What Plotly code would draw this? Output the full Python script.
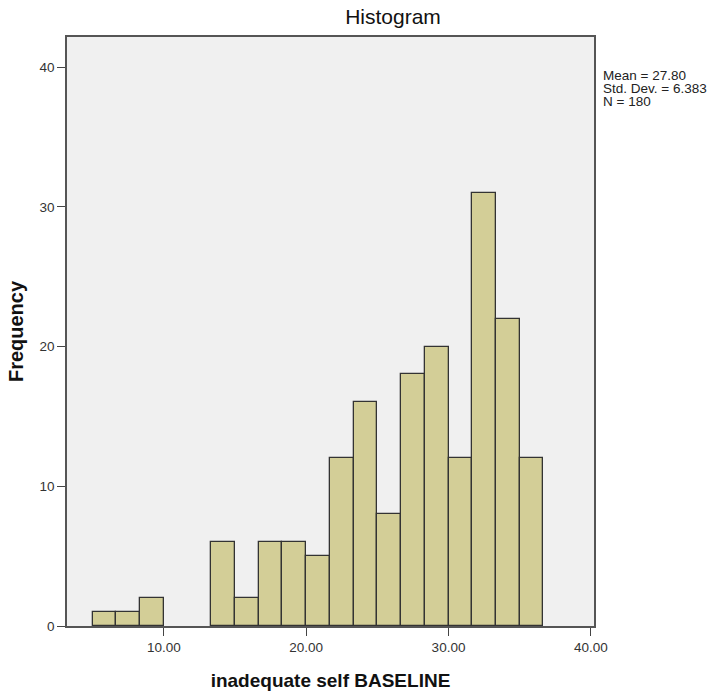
import plotly.graph_objects as go

# Data
bin_start = 5.0
bin_width = 5.0 / 3.0
counts = [1, 1, 2, 0, 0, 6, 2, 6, 6, 5, 12, 16, 8, 18, 20, 12, 31, 22, 12]
x_ticks = [10, 20, 30, 40]
x_tick_labels = ["10.00", "20.00", "30.00", "40.00"]
y_ticks = [0, 10, 20, 30, 40]
stats_lines = ["Mean = 27.80", "Std. Dev. = 6.383", "N = 180"]

centers = [bin_start + bin_width * (i + 0.5) for i in range(len(counts))]
bar_vals = [c if c > 0 else None for c in counts]

W, H = 712, 696
L, R, T, B = 67, 118, 37, 70
plot_h = H - T - B

fig = go.Figure()
fig.add_trace(go.Bar(
    x=centers, y=bar_vals, width=bin_width,
    marker=dict(color="#D3CE97", line=dict(color="#333333", width=1.3)),
    hoverinfo="x+y",
))

font = "Liberation Sans, Arial, sans-serif"
fig.update_layout(
    width=W, height=H,
    margin=dict(l=L, r=R, t=T, b=B),
    paper_bgcolor="white", plot_bgcolor="#F0F0F0",
    showlegend=False, bargap=0,
    font=dict(family=font, size=13.5, color="#222"),
    title=dict(text="Histogram", x=393 / W, xanchor="center",
               y=1 - 17 / H, yanchor="middle",
               font=dict(family=font, size=21, color="#111")),
    xaxis=dict(range=[3.2, 40.22], tickvals=x_ticks, ticktext=x_tick_labels,
               ticks="outside", ticklen=8, tickcolor="#444", tickwidth=1.3,
               showgrid=False, zeroline=False, showline=True,
               linecolor="#555", linewidth=1.5, mirror=True, automargin=False,
               tickfont=dict(size=13.5, color="#333"),
               title=dict(text="<b>inadequate self BASELINE</b>",
                          font=dict(family=font, size=19, color="#111"),
                          standoff=20)),
    yaxis=dict(range=[0, 42.15], tickvals=y_ticks,
               ticks="outside", ticklen=8, tickcolor="#444", tickwidth=1.3,
               showgrid=False, zeroline=False, showline=True,
               linecolor="#555", linewidth=1.5, mirror=True, automargin=False,
               tickfont=dict(size=13.5, color="#333"),
               title=dict(text="<b>Frequency</b>",
                          font=dict(family=font, size=20, color="#111"),
                          standoff=11)),
)

line_y = [76, 88.5, 101]
for txt, py in zip(stats_lines, line_y):
    fig.add_annotation(
        text=txt, xref="paper", yref="paper",
        x=1.0, xshift=8, y=1 - (py - T) / plot_h, xanchor="left", yanchor="middle",
        align="left", showarrow=False, borderpad=0,
        font=dict(family=font, size=13.5, color="#222"),
    )

fig.write_html(
    "out.html",
    config={"displayModeBar": False},
    post_script="document.body.style.margin='0';document.body.style.padding='0';",
)
